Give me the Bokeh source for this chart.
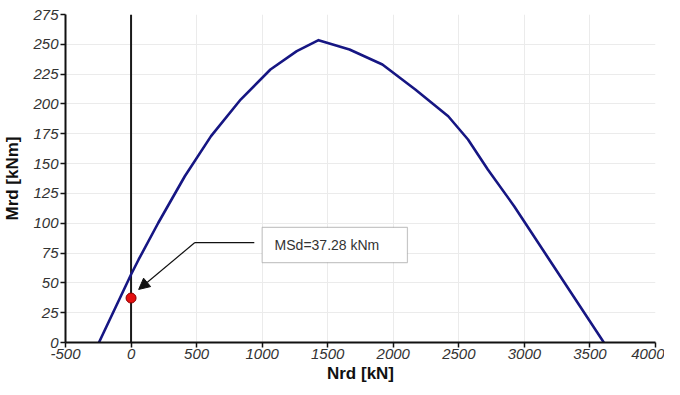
from bokeh.plotting import figure
from bokeh.models import (Range1d, FixedTicker, Arrow, NormalHead, Label,
                          BoxAnnotation)
from bokeh.embed import file_html
from bokeh.resources import INLINE

# Interaction diagram (Nrd, Mrd)
nrd = [-245, 0, 58, 208, 410, 610, 836, 1063, 1264, 1430, 1666, 1917,
       2168, 2419, 2570, 2721, 2922, 3173, 3606]
mrd = [0, 57, 69.6, 100.4, 139.4, 173, 203.7, 228.9, 244.3, 253.5, 245.7, 233.1,
       212.1, 189.7, 170.2, 145, 114.3, 72.3, 0]

# vertical reference line at N = 0
vline_n = [0, 0]
vline_m = [0, 275]

# design point
nsd = [0]
msd = [37.28]
msd_label = "MSd=37.28 kNm"

x_ticks = [-500, 0, 500, 1000, 1500, 2000, 2500, 3000, 3500, 4000]
x_tick_labels = ["-500", "0", "500", "1000", "1500", "2000", "2500", "3000", "3500", "4000"]
y_ticks = [0, 25, 50, 75, 100, 125, 150, 175, 200, 225, 250, 275]
y_tick_labels = [str(v) for v in y_ticks]

FONT = "Liberation Sans"

p = figure(width=664, height=386, output_backend="svg", toolbar_location=None,
           x_range=Range1d(-500, 4000), y_range=Range1d(0, 275),
           min_border_left=58, min_border_right=9, min_border_top=14,
           min_border_bottom=44)
p.outline_line_color = None
p.background_fill_color = "white"

for ax, ticks, labels in ((p.xaxis[0], x_ticks, x_tick_labels),
                          (p.yaxis[0], y_ticks, y_tick_labels)):
    ax.ticker = FixedTicker(ticks=ticks)
    ax.major_label_overrides = {t: l for t, l in zip(ticks, labels)}
    ax.minor_tick_line_color = None
    ax.major_tick_in = 0
    ax.major_tick_out = 5
    ax.major_tick_line_color = "#111111"
    ax.major_tick_line_width = 1.5
    ax.axis_line_color = "#111111"
    ax.axis_line_width = 2
    ax.major_label_text_font = FONT
    ax.major_label_text_font_style = "italic"
    ax.major_label_text_font_size = "15px"
    ax.major_label_text_color = "#333333"
    ax.axis_label_text_font = FONT
    ax.axis_label_text_font_style = "bold"
    ax.axis_label_text_font_size = "17px"
    ax.axis_label_text_color = "#111111"

p.xaxis.axis_label = "Nrd [kN]"
p.yaxis.axis_label = "Mrd [kNm]"
p.xaxis.major_label_standoff = 1
p.xaxis.axis_label_standoff = 2
p.yaxis.major_label_standoff = 2
p.yaxis.axis_label_standoff = 8

p.xgrid.ticker = FixedTicker(ticks=x_ticks)
p.ygrid.ticker = FixedTicker(ticks=y_ticks)
p.grid.grid_line_color = "#ebebeb"
p.grid.grid_line_width = 1

# vertical line at N=0
p.line(vline_n, vline_m, line_color="#1a1a1a", line_width=2)

# interaction curve
p.line(nrd, mrd, line_color="#161683", line_width=2.6, line_join="round")

# annotation box and leader
box_left, box_right, box_bottom, box_top = 1000, 2108, 67, 96.5
p.add_layout(BoxAnnotation(left=box_left, right=box_right, bottom=box_bottom, top=box_top,
                           fill_color="white", fill_alpha=1, line_color="#444444",
                           line_width=1.2))
p.add_layout(Label(x=(box_left + box_right) / 2 - 60, y=(box_bottom + box_top) / 2,
                   text=msd_label, text_font=FONT, text_font_size="14px",
                   text_color="#333333", text_align="center", text_baseline="middle"))

leader_start = (940, 83.8)
leader_knee = (487, 83.8)
p.segment(x0=[leader_start[0]], y0=[leader_start[1]], x1=[leader_knee[0]], y1=[leader_knee[1]],
          line_color="#111111", line_width=1.2)
p.add_layout(Arrow(x_start=leader_knee[0], y_start=leader_knee[1], x_end=58, y_end=44.5,
                   line_color="#111111", line_width=1.2,
                   end=NormalHead(size=11, fill_color="#111111", line_color="#111111")))

# design point
p.scatter(nsd, msd, size=10, fill_color="#e41010", line_color="#8a0000", line_width=1)

open("out.html", "w").write(file_html(p, INLINE))
